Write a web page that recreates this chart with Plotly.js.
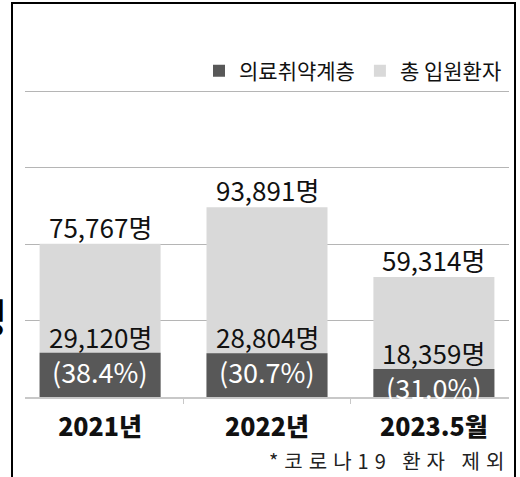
<!DOCTYPE html>
<html>
<head>
<meta charset="utf-8">
<script src="https://cdn.plot.ly/plotly-3.0.1.min.js"></script>
<style>
  html, body { margin: 0; padding: 0; background: #ffffff; }
  #chart { width: 520px; height: 477px; }
</style>
</head>
<body>
<div id="chart"></div>
<script>
const categories = ['2021년', '2022년', '2023.5월'];
const totalPatients = [75767, 93891, 59314];
const vulnerablePatients = [29120, 28804, 18359];
const seriesNames = ['의료취약계층', '총 입원환자'];
const footnote = '*코로나19 환자 제외';
const unit = '명';

const FONT = '"Noto Sans CJK KR", "Noto Sans", sans-serif';
const DARK = '#585858';
const LIGHT = '#d9d9d9';

// plot-area geometry helpers (pixels -> paper)
const W = 520, H = 477;
const M = { l: 25, r: 11, t: 15, b: 80 };
const PW = W - M.l - M.r, PH = H - M.t - M.b;
const px = x => (x - M.l) / PW;
const py = y => (H - M.b - y) / PH;

const fmt = v => v.toLocaleString('en-US') + unit;
const pct = categories.map((c, i) => '(' + (vulnerablePatients[i] / totalPatients[i] * 100).toFixed(1) + '%)');

const traces = [
  {
    type: 'bar', name: seriesNames[1], x: categories, y: totalPatients,
    marker: { color: LIGHT }, width: 0.725, yaxis: 'y', legendrank: 2,
    hoverinfo: 'skip'
  },
  {
    type: 'bar', name: seriesNames[0], x: categories, y: vulnerablePatients,
    marker: { color: DARK }, width: 0.725, yaxis: 'y2', legendrank: 1,
    hoverinfo: 'skip'
  }
];

const annotations = [];
categories.forEach((c, i) => {
  annotations.push({
    x: c, y: totalPatients[i], xref: 'x', yref: 'y', yanchor: 'bottom',
    text: fmt(totalPatients[i]), showarrow: false, yshift: -3,
    font: { family: FONT, size: 26, color: '#111111' }
  });
  annotations.push({
    x: c, y: vulnerablePatients[i], xref: 'x', yref: 'y2', yanchor: 'bottom',
    text: fmt(vulnerablePatients[i]), showarrow: false, yshift: -4,
    font: { family: FONT, size: 26, color: '#111111' }
  });
  annotations.push({
    x: c, y: vulnerablePatients[i], xref: 'x', yref: 'y2', yanchor: 'top',
    text: pct[i], showarrow: false, yshift: 3,
    font: { family: FONT, size: 27, color: '#ffffff' }
  });
});
annotations.push({
  xref: 'paper', yref: 'paper', x: px(512), y: py(460), xanchor: 'right', yanchor: 'middle',
  text: '<span style="letter-spacing:6px">' + footnote + '</span>', showarrow: false,
  font: { family: FONT, size: 20, color: '#222222' }
});
annotations.push({
  xref: 'paper', yref: 'paper', x: px(9), y: py(316), xanchor: 'right', yanchor: 'middle',
  text: unit, showarrow: false,
  font: { family: FONT, size: 40, color: '#000000', weight: 'bold' }
});

const layout = {
  width: W, height: H,
  margin: { l: M.l, r: M.r, t: M.t, b: M.b, pad: 0 },
  paper_bgcolor: '#ffffff', plot_bgcolor: '#ffffff',
  barmode: 'overlay',
  showlegend: true,
  legend: {
    orientation: 'h', x: px(507), xanchor: 'right', y: py(71), yanchor: 'middle',
    font: { family: FONT, size: 21, color: '#111111' },
    bgcolor: 'rgba(0,0,0,0)', traceorder: 'normal'
  },
  xaxis: {
    type: 'category', range: [-0.45, 2.45], fixedrange: true,
    showline: true, linecolor: '#c8c8c8', linewidth: 1.5,
    ticks: 'outside', tickson: 'boundaries', ticklen: 5, tickcolor: '#c8c8c8', tickwidth: 1,
    ticklabelstandoff: 7,
    showgrid: false, zeroline: false,
    tickfont: { family: FONT, size: 25, color: '#111111', weight: 900 }
  },
  yaxis: {
    range: [0, 189000], dtick: 37800, tick0: 0, fixedrange: true,
    showticklabels: false, ticks: '', showgrid: true, gridcolor: '#b5b5b5', gridwidth: 1,
    zeroline: false, showline: false
  },
  yaxis2: {
    overlaying: 'y', range: [0, 251000], fixedrange: true, visible: false
  },
  shapes: [
    {
      type: 'path', xref: 'paper', yref: 'paper', layer: 'above',
      path: `M ${px(12)} ${py(480)} L ${px(12)} ${py(3)} L ${px(515)} ${py(3)} L ${px(515)} ${py(480)}`,
      line: { color: '#000000', width: 2 }
    }
  ],
  annotations: annotations
};

Plotly.newPlot('chart', traces, layout, { displayModeBar: false, staticPlot: true });
</script>
</body>
</html>
